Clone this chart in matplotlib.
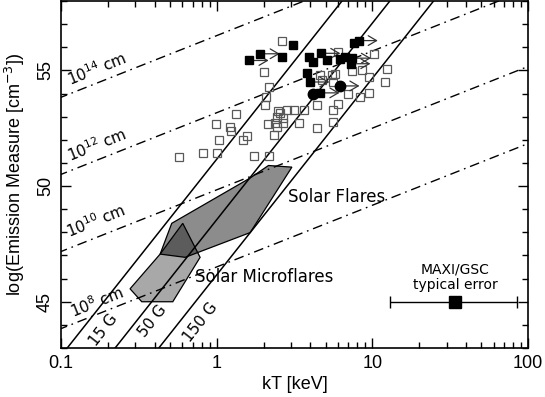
import numpy as np
import matplotlib
matplotlib.use('Agg')
import matplotlib.pyplot as plt
from matplotlib.patches import Polygon

# --- data ------------------------------------------------------------------
# open squares (kT [keV], log EM)
open_kt = [2.62, 2.00, 2.17, 2.08, 2.05, 1.33, 0.99, 1.21, 1.23, 1.56, 1.48, 1.04,
           0.815, 1.00, 0.573, 1.73, 2.18, 2.49, 2.82, 3.14, 3.61, 2.12, 2.37, 2.68,
           2.43, 2.32, 3.40, 4.40, 5.62, 5.62, 4.40, 6.05, 7.02, 8.35, 9.44, 10.2,
           12.4, 12.0, 4.62, 5.49, 4.73, 7.36, 8.57, 9.53, 6.05, 5.77, 5.55, 2.55,
           2.45, 2.68]
open_em = [56.29, 54.93, 54.30, 53.85, 53.50, 53.11, 52.67, 52.57, 52.39, 52.17, 52.00, 52.00,
           51.42, 51.42, 51.24, 51.31, 51.28, 53.25, 53.28, 53.31, 53.31, 52.68, 52.71, 52.71,
           52.57, 52.21, 52.71, 52.50, 53.28, 52.78, 53.50, 53.57, 54.00, 53.83, 54.03, 55.72,
           55.07, 54.50, 54.79, 54.79, 54.57, 54.97, 55.00, 54.71, 55.79, 54.86, 54.50, 53.14,
           53.00, 52.93]

# filled squares, with lower limit flag on kT
sq_kt = [1.62, 1.91, 2.62, 3.11, 7.56, 8.14, 3.94, 4.17, 4.68, 5.14, 6.21, 6.68,
         7.36, 7.30, 3.78, 3.98, 4.62]
sq_em = [55.43, 55.72, 55.58, 56.10, 56.17, 56.29, 55.60, 55.36, 55.74, 55.43, 55.50, 55.57,
         55.53, 55.29, 54.88, 54.50, 54.03]
sq_lim = [1, 1, 0, 0, 0, 1, 0, 0, 1, 0, 0, 0, 1, 1, 0, 1, 1]

# filled circles
ci_kt = [4.13, 6.21]
ci_em = [54.00, 54.33]
ci_lim = [0, 1]

# solar flare / microflare regions
flare_kt = [0.433, 0.514, 1.64, 2.15, 3.04, 1.64, 0.627]
flare_em = [47.06, 48.39, 50.35, 50.89, 50.82, 47.99, 46.92]
micro_kt = [0.2775, 0.330, 0.522, 0.782, 0.605, 0.433]
micro_em = [45.56, 45.00, 45.00, 46.92, 48.39, 47.06]

# Shibata & Yokoyama relations
B_vals = [15, 50, 150]            # G
L_exps = [14, 12, 10, 8]          # log10 L [cm]

# MAXI/GSC typical error
err_kt = 34.0
err_lo = 13.0
err_hi = 85.0
err_em = 45.0

# ---------------------------------------------------------------------------
KEV_1E7 = 0.862   # 1e7 K in keV

fig = plt.figure(figsize=(5.45, 3.97), dpi=100)
ax = fig.add_axes([0.112, 0.1234, 0.857, 0.874])
ax.set_xscale('log')
ax.set_xlim(0.1, 100)
ax.set_ylim(43, 58)

ax.add_patch(Polygon(np.column_stack([flare_kt, flare_em]), closed=True,
                     fc=(0, 0, 0, 0.45), ec='k', lw=0.9, zorder=1))
ax.add_patch(Polygon(np.column_stack([micro_kt, micro_em]), closed=True,
                     fc=(0, 0, 0, 0.34), ec='k', lw=0.9, zorder=1))

T = np.logspace(-1.5, 2.5, 200)
for B in B_vals:
    em = 48 - 5*np.log10(B/50.) + 8.5*np.log10(T/KEV_1E7)
    ax.plot(T, em, color='k', lw=1.1, zorder=2)
for L in L_exps:
    em = 48 + 5/3.*(L - 9) + 8/3.*np.log10(T/KEV_1E7)
    ax.plot(T, em, color='k', lw=1.0, ls=(0, (7, 3.5, 1.2, 3.5)), zorder=2)

# line labels
for L, (x, y) in zip(L_exps, [(0.170, 55.09), (0.170, 51.78), (0.168, 48.5), (0.170, 45.0)]):
    ax.text(x, y, '10$^{%d}$ cm' % L, rotation=21.8, rotation_mode='anchor',
            ha='center', va='center', fontsize=11, family='DejaVu Sans', zorder=4)
for B, (x, y) in zip(B_vals, [(0.189, 43.79), (0.390, 44.17), (0.782, 44.13)]):
    ax.text(x, y, '%d G' % B, rotation=51.8, rotation_mode='anchor',
            ha='center', va='center', fontsize=11, family='DejaVu Sans', zorder=4)

ax.text(2.88, 49.53, 'Solar Flares', fontsize=12, family='DejaVu Sans',
        ha='left', va='center', zorder=4)
ax.text(0.726, 46.05, 'Solar Microflares', fontsize=12, family='DejaVu Sans',
        ha='left', va='center', zorder=4)

# data points
ax.plot(open_kt, open_em, ls='none', marker='s', ms=6, mfc='none', mec='0.35',
        mew=0.9, zorder=3)
ax.plot(sq_kt, sq_em, ls='none', marker='s', ms=6.3, color='k', zorder=5)
ax.plot(ci_kt, ci_em, ls='none', marker='o', ms=7.5, color='k', zorder=5)
for x, y, f in list(zip(sq_kt, sq_em, sq_lim)) + list(zip(ci_kt, ci_em, ci_lim)):
    if f:
        ax.annotate('', xy=(x*1.33, y), xytext=(x, y),
                    arrowprops=dict(arrowstyle='->,head_length=0.6,head_width=0.35',
                                    color='0.2', lw=0.9, shrinkA=0, shrinkB=0),
                    zorder=4)

# typical error bar
ax.errorbar(err_kt, err_em, xerr=[[err_kt - err_lo], [err_hi - err_kt]], fmt='s',
            color='k', ms=8.5, lw=1.0, capsize=4, capthick=1.0, zorder=5)
ax.text(err_kt, 46.05, 'MAXI/GSC\ntypical error', fontsize=10, family='DejaVu Sans',
        ha='center', va='center', linespacing=1.15)

# axes
ax.set_yticks([45, 50, 55])
ax.set_yticks(np.arange(43, 59, 1), minor=True)
ax.set_xticks([0.1, 1, 10, 100])
ax.set_xticklabels(['0.1', '1', '10', '100'], family='Liberation Sans', fontsize=13)
ax.set_yticklabels(['45', '50', '55'], family='Liberation Sans', fontsize=13,
                   rotation=90, va='center')
ax.tick_params(which='both', direction='in', top=True, right=True, width=1.0)
ax.tick_params(which='major', length=7, pad=5)
ax.tick_params(which='minor', length=4)
for s in ax.spines.values():
    s.set_linewidth(1.2)

ax.set_xlabel('kT [keV]', family='Liberation Sans', fontsize=13, labelpad=3)
ax.set_ylabel('log(Emission Measure [cm$^{-3}$])', family='Liberation Sans',
              fontsize=13, labelpad=7)

fig.savefig('out.png', dpi=100)
